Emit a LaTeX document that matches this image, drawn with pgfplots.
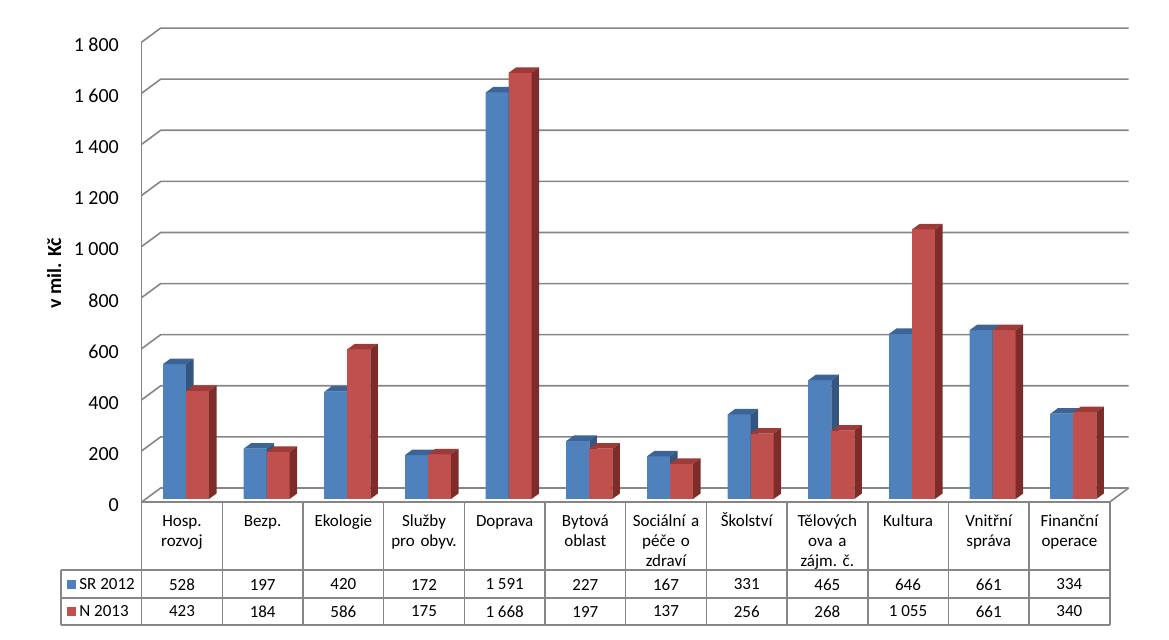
\documentclass[border=0pt]{standalone}
\usepackage{fontspec}
\setmainfont{Carlito}
\usepackage{pgfplots}
\usepackage{pgfplotstable}
\pgfplotsset{compat=1.18}
\definecolor{bfront}{HTML}{4F81BD}
\definecolor{btop}{HTML}{3C6496}
\definecolor{bside}{HTML}{33557F}
\definecolor{rfront}{HTML}{C0504D}
\definecolor{rtop}{HTML}{9E3B38}
\definecolor{rside}{HTML}{7E2C2A}
\definecolor{gridc}{HTML}{868686}

\pgfplotstableread{
x sr n
0 528 423
1 197 184
2 420 586
3 172 175
4 1591 1668
5 227 197
6 167 137
7 331 256
8 465 268
9 646 1055
10 661 661
11 334 340
}\datatable

\newcommand\declbar[4]{%
\pgfdeclareplotmark{#1}{%
  \pgfmathsetlengthmacro\hh{\barval*0.12775pt}%
  \pgfsetfillcolor{#4}%
  \pgfpathrectanglecorners{\pgfpoint{-5.75pt}{-\hh}}{\pgfpoint{5.75pt}{0pt}}%
  \pgfusepath{fill}%
  \pgfsetfillcolor{#2}%
  \pgfpathmoveto{\pgfpoint{-5.75pt}{0pt}}%
  \pgfpathlineto{\pgfpoint{5.75pt}{0pt}}%
  \pgfpathlineto{\pgfpoint{9.5pt}{2.75pt}}%
  \pgfpathlineto{\pgfpoint{-2pt}{2.75pt}}%
  \pgfpathclose
  \pgfusepath{fill}%
  \pgfsetfillcolor{#3}%
  \pgfpathmoveto{\pgfpoint{5.75pt}{0pt}}%
  \pgfpathlineto{\pgfpoint{9.5pt}{2.75pt}}%
  \pgfpathlineto{\pgfpoint{9.5pt}{2.75pt-\hh}}%
  \pgfpathlineto{\pgfpoint{5.75pt}{-\hh}}%
  \pgfpathclose
  \pgfusepath{fill}%
}}
\declbar{barsr}{btop}{bside}{bfront}
\declbar{barn}{rtop}{rside}{rfront}

\begin{document}
\begin{tikzpicture}
\useasboundingbox (0,0) rectangle (584.5pt,320pt);
\begin{axis}[
  at={(72.835pt,70.5pt)}, anchor=south west,
  x=40.335pt, y=0.12775pt,
  xmin=-0.5, xmax=11.5, ymin=0, ymax=1800,
  enlargelimits=false, clip=false,
  axis line style={draw=none},
  major tick length=0pt,
  ytick={0,200,...,1800},
  scaled y ticks=false,
  xtick={0,...,11},
  xticklabels={{Hosp.\\rozvoj},{Bezp.},{Ekologie},{Služby\\pro obyv.},{Doprava},{Bytová\\oblast},{Sociální a\\péče o\\zdraví},{Školství},{Tělových\\ova a\\zájm.\ č.},{Kultura},{Vnitřní\\správa},{Finanční\\operace}},
  xticklabel style={anchor=north, inner sep=0pt, xshift=-2pt, yshift=-6.5pt, text width=38pt, align=center, font=\fontsize{8.5}{10}\selectfont, execute at begin node=\strut},
  yticklabel style={anchor=east, inner sep=0pt, xshift=-13.2pt, yshift=-3pt, font=\fontsize{10}{12}\selectfont},
  /pgf/number format/assume math mode=true,
  /pgf/number format/1000 sep={~},
]
% back wall grid + left wall connectors
\pgfplotsinvokeforeach{0,200,400,600,800,1000,1200,1400,1600,1800}{
  \draw[gridc, line width=0.8pt] ([shift={(-2pt,-1.5pt)}]axis cs:-0.5,#1) -- ([shift={(7.5pt,5.5pt)}]axis cs:-0.5,#1) -- ([shift={(7.5pt,5.5pt)}]axis cs:11.5,#1);
}
% front vertical axis line (down through table)
\draw[gridc, line width=0.8pt] ([shift={(-2pt,-63pt)}]axis cs:-0.5,0) -- ([shift={(-2pt,-1.5pt)}]axis cs:-0.5,1800);
% floor front and right edges
\draw[gridc, line width=0.8pt] ([shift={(-2pt,-1.5pt)}]axis cs:-0.5,0) -- ([shift={(-2pt,-1.5pt)}]axis cs:11.5,0) -- ([shift={(7.5pt,5.5pt)}]axis cs:11.5,0);
% table vertical lines
\pgfplotsinvokeforeach{0.5,1.5,2.5,3.5,4.5,5.5,6.5,7.5,8.5,9.5,10.5,11.5}{
  \draw[gridc, line width=0.8pt] ([shift={(-2pt,-1.5pt)}]axis cs:#1,0) -- ([shift={(-2pt,-63pt)}]axis cs:#1,0);
}
\draw[gridc, line width=0.8pt] ([shift={(-2pt,-35.5pt)}]axis cs:-1.5,0) -- ([shift={(-2pt,-63pt)}]axis cs:-1.5,0);
% table horizontal lines
\pgfplotsinvokeforeach{-35.5pt,-49.5pt,-63pt}{
  \draw[gridc, line width=0.8pt] ([shift={(-2pt,#1)}]axis cs:-1.5,0) -- ([shift={(-2pt,#1)}]axis cs:11.5,0);
}

% bars
\addplot[ybar, bar width=11.5pt, bar shift=0pt, fill=bfront, draw=none, mark=barsr, visualization depends on={\thisrow{sr} \as \barval}] table[x expr=\thisrow{x}-0.14256, y=sr] \datatable;
\addplot[ybar, bar width=11.5pt, bar shift=0pt, fill=rfront, draw=none, mark=barn, visualization depends on={\thisrow{n} \as \barval}] table[x expr=\thisrow{x}+0.14256, y=n] \datatable;

% data table values
\addplot[draw=none, mark=none, nodes near coords={\pgfmathprintnumber[assume math mode=true,1000 sep={~}]{\pgfplotspointmeta}}, point meta=\thisrow{sr}, every node near coord/.append style={anchor=center, inner sep=0pt, xshift=-2pt, yshift=-42.75pt, font=\fontsize{8.5}{10}\selectfont, text=black}] table[x=x, y expr=0] \datatable;
\addplot[draw=none, mark=none, nodes near coords={\pgfmathprintnumber[assume math mode=true,1000 sep={~}]{\pgfplotspointmeta}}, point meta=\thisrow{n}, every node near coord/.append style={anchor=center, inner sep=0pt, xshift=-2pt, yshift=-56.25pt, font=\fontsize{8.5}{10}\selectfont, text=black}] table[x=x, y expr=0] \datatable;

% legend cells
\node[anchor=west, inner sep=0pt, font=\fontsize{8.5}{10}\selectfont] at ([shift={(0.85pt,-42.75pt)}]axis cs:-1.5,0) {\textcolor{bfront}{\raisebox{0.4pt}{\rule{4.5pt}{4.5pt}}}\hspace{1.65pt}SR 2012};
\node[anchor=west, inner sep=0pt, font=\fontsize{8.5}{10}\selectfont] at ([shift={(0.85pt,-56.25pt)}]axis cs:-1.5,0) {\textcolor{rfront}{\raisebox{0.4pt}{\rule{4.5pt}{4.5pt}}}\hspace{1.65pt}N 2013};

% y label
\node[rotate=90, inner sep=0pt, font=\fontsize{10}{12}\selectfont\bfseries] at ([xshift=-45.8pt]axis cs:-0.5,884) {v mil. Kč};
\end{axis}
\end{tikzpicture}
\end{document}
